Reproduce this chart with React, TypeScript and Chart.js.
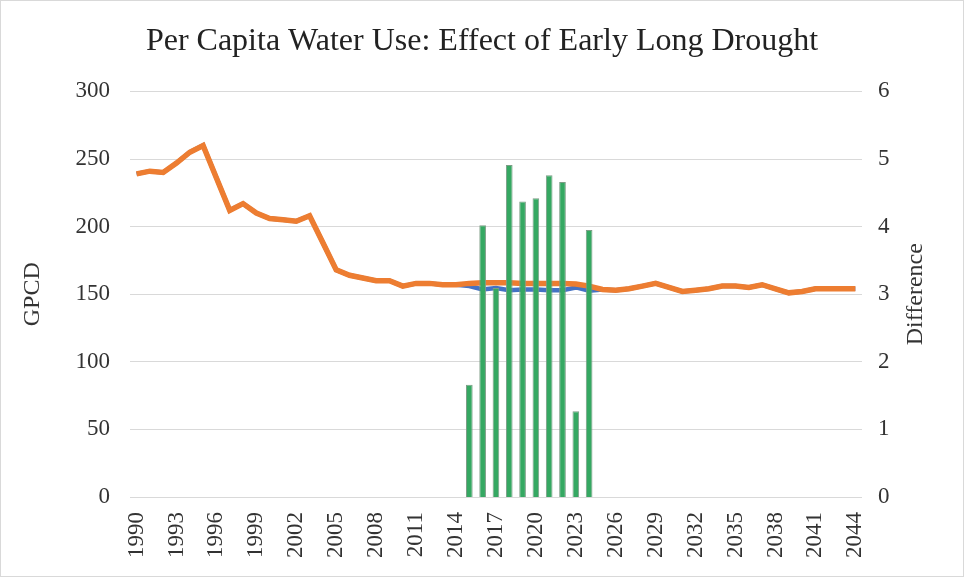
import React, { useEffect, useRef } from "react";
import { Chart, registerables } from "chart.js";

Chart.register(...registerables);

const years = [
  "1990", "1991", "1992", "1993", "1994", "1995", "1996", "1997", "1998", "1999",
  "2000", "2001", "2002", "2003", "2004", "2005", "2006", "2007", "2008", "2009",
  "2010", "2011", "2012", "2013", "2014", "2015", "2016", "2017", "2018", "2019",
  "2020", "2021", "2022", "2023", "2024", "2025", "2026", "2027", "2028", "2029",
  "2030", "2031", "2032", "2033", "2034", "2035", "2036", "2037", "2038", "2039",
  "2040", "2041", "2042", "2043", "2044",
];

// Baseline GPCD (orange)
const baseline = [
  239, 241, 240, 247, 255, 260, 236, 212, 217, 210,
  206, 205, 204, 208, 188, 168, 164, 162, 160, 160,
  156, 158, 158, 157, 157, 158, 158.5, 158.5, 158.5, 158,
  158, 158, 158, 157.5, 156, 153.5, 153, 154, 156, 158,
  155, 152, 153, 154, 156, 156, 155, 157, 154, 151,
  152, 154, 154, 154, 154,
];

// Early long drought GPCD (blue)
const drought = [
  239, 241, 240, 247, 255, 260, 236, 212, 217, 210,
  206, 205, 204, 208, 188, 168, 164, 162, 160, 160,
  156, 158, 158, 157, 157, 156, 153.5, 154.5, 153, 153.5,
  153.5, 153, 153, 155, 152.5, 153.5, 153, 154, 156, 158,
  155, 152, 153, 154, 156, 156, 155, 157, 154, 151,
  152, 154, 154, 154, 154,
];

// Difference (green bars, right axis)
const difference = [
  null, null, null, null, null, null, null, null, null, null,
  null, null, null, null, null, null, null, null, null, null,
  null, null, null, null, null, 1.66, 4.02, 3.09, 4.91, 4.37,
  4.42, 4.76, 4.66, 1.27, 3.95, null, null, null, null, null,
  null, null, null, null, null, null, null, null, null, null,
  null, null, null, null, null,
];

const leftTicks = [0, 50, 100, 150, 200, 250, 300];
const rightTicks = [0, 1, 2, 3, 4, 5, 6];

const FONT = "'Liberation Serif', 'Times New Roman', serif";

export default function App() {
  const ref = useRef<HTMLCanvasElement | null>(null);

  useEffect(() => {
    if (!ref.current) return;
    const frame = {
      id: "frame",
      beforeDraw(chart: any) {
        const c = chart.ctx;
        c.save();
        c.fillStyle = "#ffffff";
        c.fillRect(0, 0, chart.width, chart.height);
        c.strokeStyle = "#d9d9d9";
        c.lineWidth = 1;
        c.strokeRect(0.5, 0.5, chart.width - 1, chart.height - 1);
        c.restore();
      },
      afterDraw(chart: any) {
        const s = chart.scales.y1;
        const ca = chart.chartArea;
        const c = chart.ctx;
        c.save();
        c.translate(s.right - 48, (ca.top + ca.bottom) / 2);
        c.rotate(-Math.PI / 2);
        c.textAlign = "center";
        c.textBaseline = "middle";
        c.fillStyle = "#333333";
        c.font = `24px ${FONT}`;
        c.fillText("Difference", 0, 0);
        c.restore();
      },
    };

    const chart = new Chart(ref.current, {
      type: "bar",
      data: {
        labels: years,
        datasets: [
          {
            type: "bar",
            label: "Difference",
            data: difference,
            yAxisID: "y1",
            backgroundColor: "#35a862",
            borderColor: "#7c9d86",
            borderWidth: 1,
            barPercentage: 0.5,
            categoryPercentage: 1,
            order: 0,
          },
          {
            type: "line",
            label: "Baseline",
            data: baseline,
            yAxisID: "y",
            borderColor: "#ED7D31",
            backgroundColor: "#ED7D31",
            borderWidth: 5.5,
            pointRadius: 0,
            tension: 0,
            order: 1,
          },
          {
            type: "line",
            label: "Early Long Drought",
            data: drought,
            yAxisID: "y",
            borderColor: "#4472C4",
            backgroundColor: "#4472C4",
            borderWidth: 4.5,
            pointRadius: 0,
            tension: 0,
            order: 2,
          },
        ] as any,
      },
      options: {
        animation: false,
        responsive: false,
        maintainAspectRatio: false,
        layout: { padding: { left: 0, right: 0, top: 0, bottom: 4 } },
        plugins: {
          legend: { display: false },
          tooltip: { enabled: false },
          title: {
            display: true,
            text: "Per Capita Water Use: Effect of Early Long Drought",
            color: "#222222",
            font: { family: FONT, size: 32, weight: "normal" },
            padding: { top: 22, bottom: 31 },
          },
        },
        scales: {
          x: {
            offset: true,
            grid: { display: false, drawTicks: false },
            border: { display: false },
            ticks: {
              autoSkip: false,
              maxRotation: 90,
              minRotation: 90,
              padding: 15,
              color: "#333333",
              font: { family: FONT, size: 23 },
              callback: (_v: any, i: number) => (i % 3 === 0 ? years[i] : ""),
            },
          },
          y: {
            position: "left",
            min: leftTicks[0],
            max: leftTicks[leftTicks.length - 1],
            afterBuildTicks: (s: any) => {
              s.ticks = leftTicks.map((v) => ({ value: v }));
            },
            grid: { color: "#d9d9d9", lineWidth: 1, drawTicks: false },
            border: { display: false },
            ticks: {
              padding: 20,
              color: "#333333",
              font: { family: FONT, size: 23 },
            },
            title: {
              display: true,
              text: "GPCD",
              color: "#333333",
              font: { family: FONT, size: 24 },
              padding: { top: 18.6, bottom: 8 },
            },
          },
          y1: {
            position: "right",
            min: rightTicks[0],
            max: rightTicks[rightTicks.length - 1],
            afterBuildTicks: (s: any) => {
              s.ticks = rightTicks.map((v) => ({ value: v }));
            },
            grid: { display: false, drawTicks: false },
            border: { display: false },
            ticks: {
              padding: 16,
              color: "#333333",
              font: { family: FONT, size: 23 },
            },
            title: {
              display: true,
              text: "Difference",
              color: "rgba(0,0,0,0)",
              font: { family: FONT, size: 24 },
              padding: { top: 20, bottom: 9.7 },
            },
          },
        },
      } as any,
      plugins: [frame],
    });
    return () => chart.destroy();
  }, []);

  return (
    <div style={{ position: "fixed", left: 0, top: 0, width: 964, height: 577 }}>
      <canvas ref={ref} width={964} height={577} style={{ width: 964, height: 577, display: "block" }} />
    </div>
  );
}
